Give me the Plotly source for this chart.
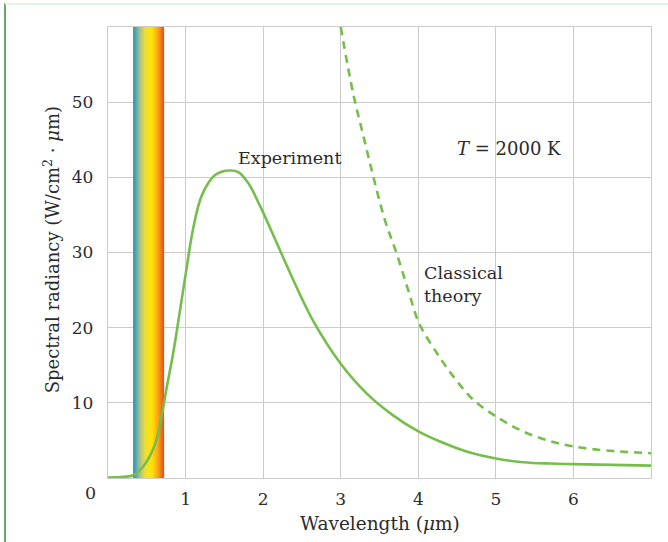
import numpy as np
import plotly.graph_objects as go

# ---- data ----
exp_wavelength = [0, 0.2, 0.33, 0.48, 0.61, 0.69, 0.76, 0.84, 0.93, 1.01, 1.10, 1.21, 1.38,
                  1.55, 1.68, 1.81, 1.96, 2.17, 2.39, 2.65, 3.0, 3.33, 3.68, 4.0, 4.28,
                  4.6, 5.0, 5.35, 5.7, 6.0, 6.5, 7.0]
exp_radiancy = [0.05, 0.15, 0.4, 1.9, 4.6, 8.2, 12.2, 16.6, 22.4, 27.7, 33.3, 37.6, 40.3,
                40.9, 40.7, 39.2, 36.2, 31.4, 26.3, 20.8, 15.2, 11.3, 8.3, 6.2, 4.85,
                3.6, 2.6, 2.1, 1.92, 1.85, 1.75, 1.65]

cls_wavelength = [3.0, 3.16, 3.29, 3.42, 3.57, 3.72, 3.87, 4.01, 4.28, 4.49, 4.71, 5.0,
                  5.35, 5.7, 6.0, 6.43, 7.0]
cls_radiancy = [60, 51.2, 45.6, 40.1, 34.3, 29.9, 25.0, 20.6, 16.0, 13.0, 10.4, 8.2,
                6.2, 4.9, 4.2, 3.65, 3.3]

visible_band = [0.326, 0.72]          # wavelength range of the spectrum strip (um)
band_colors = ["#1f9ac4", "#a9c08a", "#f2e030", "#ffe500", "#f8a31c", "#ec4a1a"]

x_ticks = [1, 2, 3, 4, 5, 6]
y_ticks = [10, 20, 30, 40, 50]
x_range = [0, 7]
y_range = [0, 60]

GREEN = "#76be4b"
GRID = "#cbcbcb"
TEXT = "#2b2b2b"
FONT = "DejaVu Serif"

fig = go.Figure()

# spectrum strip as a gradient heatmap
bx = np.linspace(visible_band[0], visible_band[1], 80)
fig.add_trace(go.Heatmap(
    x=bx, y=y_range, z=[bx, bx],
    colorscale=[[i / (len(band_colors) - 1), c] for i, c in enumerate(band_colors)],
    showscale=False, hoverinfo="skip", zsmooth="best"))

fig.add_trace(go.Scatter(x=cls_wavelength, y=cls_radiancy, mode="lines",
                         line=dict(color=GREEN, width=2.6, dash="8px,6px", shape="spline"),
                         showlegend=False))
fig.add_trace(go.Scatter(x=exp_wavelength, y=exp_radiancy, mode="lines",
                         line=dict(color=GREEN, width=2.6, shape="spline"),
                         showlegend=False))

ann_font = dict(family=FONT, size=17.5, color=TEXT)
fig.add_annotation(x=1.65, y=42.6, text="Experiment", showarrow=False,
                   xanchor="left", yanchor="middle", font=ann_font)
fig.add_annotation(x=5.17, y=43.8, text="<i>T</i> = 2000 K", showarrow=False,
                   xanchor="center", yanchor="middle", font=dict(family=FONT, size=18, color=TEXT))
fig.add_annotation(x=4.05, y=25.8, text="Classical<br>theory", showarrow=False,
                   xanchor="left", yanchor="middle", align="left", font=ann_font)
# shared origin label
fig.add_annotation(x=0, y=0, xref="x", yref="y", text="0", showarrow=False,
                   xshift=-18, yshift=-15, font=ann_font)
# axis titles
fig.add_annotation(xref="paper", yref="paper", x=0.5, y=0, yshift=-45,
                   text="Wavelength (<i>μ</i>m)", showarrow=False,
                   xanchor="center", yanchor="middle", font=dict(family=FONT, size=18.5, color=TEXT))
fig.add_annotation(xref="paper", yref="paper", x=0, y=0.505, xshift=-56,
                   text="Spectral radiancy (W/cm<sup>2</sup> · <i>μ</i>m)", textangle=-90,
                   showarrow=False, xanchor="center", yanchor="middle",
                   font=dict(family=FONT, size=18, color=TEXT))

# page decorations
fig.add_shape(type="line", xref="paper", yref="paper", x0=-103 / 543, x1=-103 / 543,
              y0=-1.2, y1=1.052, line=dict(color="#2f8f2f", width=1.5), layer="above")
fig.add_shape(type="line", xref="paper", yref="paper", x0=-103 / 543, x1=1.04,
              y0=1.051, y1=1.051, line=dict(color="#d6f3d6", width=1.5))

axis_common = dict(showgrid=True, gridcolor=GRID, gridwidth=1.4, showline=True,
                   linecolor=GRID, linewidth=1.4, mirror=True, zeroline=False,
                   ticks="", tickfont=dict(family=FONT, size=17, color=TEXT),
                   automargin=False, fixedrange=True)
fig.update_xaxes(range=x_range, tickvals=x_ticks, ticklabelstandoff=5, **axis_common)
fig.update_yaxes(range=y_range, tickvals=y_ticks, ticklabelstandoff=10, **axis_common)

fig.update_layout(width=668, height=542, margin=dict(l=108, r=17, t=27, b=64),
                  plot_bgcolor="white", paper_bgcolor="white", showlegend=False)

fig.write_html("out.html", config={"displayModeBar": False},
               post_script="document.body.style.margin='0';")
